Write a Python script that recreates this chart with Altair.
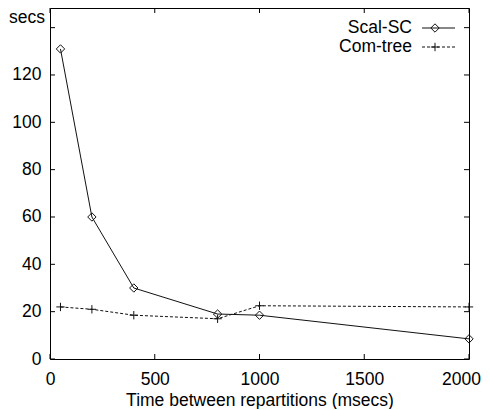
import altair as alt
import pandas as pd

# Data
x_vals = [50, 200, 400, 800, 1000, 2000]
scal_sc = [131, 60, 30, 19, 18.5, 8.5]
com_tree = [22, 21, 18.5, 17, 22.5, 22]
series_names = ["Scal-SC", "Com-tree"]
x_ticks = [0, 500, 1000, 1500, 2000]
y_ticks = [0, 20, 40, 60, 80, 100, 120, 140]
y_labels = [0, 20, 40, 60, 80, 100, 120]

W, H = 419, 351
FONT = "Liberation Sans"
FS = 17.5
XDOM = [0, 2000]
YDOM = [0, 148.3]

scal_df = pd.DataFrame({"x": x_vals, "y": scal_sc})
com_df = pd.DataFrame({"x": x_vals, "y": com_tree})
xt_df = pd.DataFrame({"v": x_ticks})
yt_df = pd.DataFrame({"v": y_ticks})

xs = alt.Scale(domain=XDOM, nice=False, zero=False)
ys = alt.Scale(domain=YDOM, nice=False, zero=False)

xaxis = alt.Axis(values=x_ticks, format="d", ticks=False, domain=False, grid=False,
                 labelFlush=False, labelOverlap=False,
                 labelOffset={"condition": {"test": "datum.value == 2000", "value": -8}, "value": 0},
                 labelFont=FONT, labelFontSize=FS, labelColor="black",
                 labelPadding=11, title="Time between repartitions (msecs)",
                 titleFont=FONT, titleFontSize=FS, titleFontWeight="normal",
                 titleColor="black", titlePadding=4)
yaxis = alt.Axis(values=y_labels, format="d", ticks=False, domain=False, grid=False,
                 labelFlush=False, labelOverlap=False,
                 labelFont=FONT, labelFontSize=FS, labelColor="black",
                 labelPadding=9, title=None)

base_x = alt.X("x:Q", scale=xs, axis=xaxis)
base_y = alt.Y("y:Q", scale=ys, axis=yaxis)

scal_line = alt.Chart(scal_df).mark_line(color="#111", strokeWidth=1).encode(x=base_x, y=base_y)
scal_pts = alt.Chart(scal_df).mark_point(shape="diamond", size=70, filled=False,
                                         color="#111", strokeWidth=1, opacity=1).encode(
    x=alt.X("x:Q", scale=xs), y=alt.Y("y:Q", scale=ys))
com_line = alt.Chart(com_df).mark_line(color="#111", strokeWidth=1, strokeDash=[3, 2]).encode(
    x=alt.X("x:Q", scale=xs), y=alt.Y("y:Q", scale=ys))
plus = "M-1,0L1,0M0,-1L0,1"
com_pts = alt.Chart(com_df).mark_point(shape=plus, size=70, filled=False,
                                       color="#111", strokeWidth=1, opacity=1).encode(
    x=alt.X("x:Q", scale=xs), y=alt.Y("y:Q", scale=ys))

TL = 5
yt_left = alt.Chart(yt_df).mark_rule(color="black", strokeWidth=1).encode(
    y=alt.Y("v:Q", scale=ys), x=alt.value(0), x2=alt.value(TL))
yt_right = alt.Chart(yt_df).mark_rule(color="black", strokeWidth=1).encode(
    y=alt.Y("v:Q", scale=ys), x=alt.value(W - TL), x2=alt.value(W))
xt_bot = alt.Chart(xt_df).mark_rule(color="black", strokeWidth=1).encode(
    x=alt.X("v:Q", scale=xs), y=alt.value(H), y2=alt.value(H - TL))
xt_top = alt.Chart(xt_df).mark_rule(color="black", strokeWidth=1).encode(
    x=alt.X("v:Q", scale=xs), y=alt.value(0), y2=alt.value(TL))

secs = alt.Chart(pd.DataFrame({"t": ["secs"]})).mark_text(
    font=FONT, fontSize=FS, align="right", baseline="alphabetic", color="black").encode(
    text="t:N", x=alt.value(-5), y=alt.value(15))

# Legend
leg_text_scal = alt.Chart(pd.DataFrame({"name": [series_names[0]]})).mark_text(
    font=FONT, fontSize=FS, align="right", baseline="middle", color="black").encode(
    text="name:N", x=alt.value(362), y=alt.value(20))
leg_text_com = alt.Chart(pd.DataFrame({"name": [series_names[1]]})).mark_text(
    font=FONT, fontSize=FS, align="right", baseline="middle", color="black").encode(
    text="name:N", x=alt.value(362), y=alt.value(39))
leg_line_scal = alt.Chart(pd.DataFrame({"name": [series_names[0]]})).mark_rule(
    color="#111", strokeWidth=1).encode(x=alt.value(372), x2=alt.value(405), y=alt.value(20))
leg_line_com = alt.Chart(pd.DataFrame({"name": [series_names[1]]})).mark_rule(
    color="#111", strokeWidth=1, strokeDash=[3, 2]).encode(x=alt.value(372), x2=alt.value(405), y=alt.value(39))
leg_pt_scal = alt.Chart(pd.DataFrame({"name": [series_names[0]]})).mark_point(
    shape="diamond", size=70, filled=False, color="#111", strokeWidth=1, opacity=1).encode(
    x=alt.value(385), y=alt.value(20))
leg_pt_com = alt.Chart(pd.DataFrame({"name": [series_names[1]]})).mark_point(
    shape=plus, size=70, filled=False, color="#111", strokeWidth=1, opacity=1).encode(
    x=alt.value(385), y=alt.value(39))

chart = alt.layer(
    scal_line, com_line, scal_pts, com_pts,
    yt_left, yt_right, xt_bot, xt_top, secs,
    leg_text_scal, leg_text_com, leg_line_scal, leg_line_com, leg_pt_scal, leg_pt_com,
).properties(
    width=W, height=H,
    padding={"left": 42, "top": 0, "right": 13, "bottom": 50},
    autosize=alt.AutoSizeParams(type="none"),
    background="white",
).configure_view(stroke="black", strokeWidth=1)

chart.save("out.html", embed_options={"renderer": "svg", "actions": False})
